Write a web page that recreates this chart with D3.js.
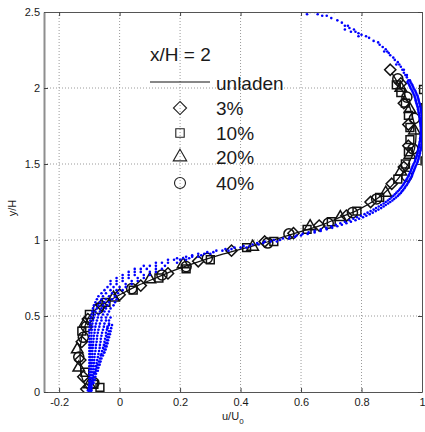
<!DOCTYPE html>
<html><head><meta charset="utf-8">
<script src="https://cdn.jsdelivr.net/npm/d3@7"></script>
<style>
html,body{margin:0;padding:0;background:#fff;}
text{font-family:"Liberation Sans",Arial,Helvetica,sans-serif;fill:#1a1a1a;}
</style></head><body>
<svg id="c" width="425" height="432"></svg>
<script>
// ---- data ----
const xTicks = [-0.2, 0, 0.2, 0.4, 0.6, 0.8, 1];
const xTickLabels = ["-0.2", "0", "0.2", "0.4", "0.6", "0.8", "1"];
const yTicks = [0, 0.5, 1, 1.5, 2, 2.5];
const yTickLabels = ["0", "0.5", "1", "1.5", "2", "2.5"];
const legendTitle = "x/H = 2";
const legendLabels = ["unladen", "3%", "10%", "20%", "40%"];

// unladen profile [u/U0, y/H]
const unladen = [[-0.10,0.00],[-0.115,0.05],[-0.125,0.10],[-0.13,0.20],[-0.13,0.30],[-0.12,0.40],[-0.10,0.50],
  [-0.075,0.55],[-0.035,0.60],[0.01,0.65],[0.06,0.70],[0.12,0.75],[0.18,0.80],[0.25,0.85],[0.33,0.90],
  [0.42,0.95],[0.51,1.00],[0.59,1.05],[0.67,1.10],[0.73,1.15],[0.79,1.20],[0.87,1.30],[0.92,1.40],
  [0.955,1.50],[0.975,1.60],[0.98,1.70],[0.97,1.80],[0.955,1.90],[0.93,2.00],[0.90,2.10]];

// particle-laden profiles [u/U0, y/H]
const p3 = [[-0.11,0.02],[-0.12,0.10],[-0.13,0.21],[-0.125,0.33],[-0.105,0.48],[-0.06,0.57],[0.0,0.64],
  [0.07,0.70],[0.16,0.78],[0.26,0.86],[0.37,0.93],[0.48,0.99],[0.575,1.045],[0.66,1.095],[0.75,1.16],
  [0.83,1.25],[0.90,1.37],[0.94,1.48],[0.955,1.62],[0.955,1.76],[0.94,1.90],[0.93,2.03],[0.895,2.12]];
const p10 = [[-0.065,0.03],[-0.085,0.05],[-0.115,0.13],[-0.125,0.40],[-0.10,0.51],[-0.045,0.59],[0.045,0.67],
  [0.13,0.75],[0.22,0.81],[0.30,0.87],[0.42,0.95],[0.51,0.99],[0.62,1.07],[0.70,1.12],[0.785,1.19],
  [0.86,1.28],[0.92,1.40],[0.945,1.50],[0.955,1.58],[0.96,1.66],[0.96,1.74],[0.955,1.82],[0.945,1.90],
  [0.93,1.97],[0.915,2.02],[1.01,1.52],[1.01,1.68],[1.01,1.87],[1.005,1.99]];
const p20 = [[-0.10,0.05],[-0.135,0.16],[-0.14,0.28],[-0.115,0.45],[-0.02,0.62],[0.10,0.74],[0.21,0.84],
  [0.44,0.955],[0.63,1.09],[0.73,1.15],[0.88,1.31],[0.93,1.45],[0.96,1.56],[0.975,1.72],[0.96,1.86],[0.93,2.0]];
const p40 = [[-0.085,0.06],[-0.135,0.23],[-0.12,0.36],[-0.11,0.43],[-0.07,0.55],[0.04,0.68],[0.14,0.77],
  [0.22,0.825],[0.29,0.88],[0.49,0.98],[0.56,1.04],[0.69,1.11],[0.77,1.18],[0.85,1.27],[0.95,1.42],
  [0.97,1.60],[0.975,1.80],[0.95,1.94],[0.92,2.06]];

// scattered measurement points, rows of [y/H, u/U0 ...]
const blueRows = [
 [2.50,0.60,0.615,0.63,0.645,0.66,0.675,0.69,0.71],[2.485,0.62,0.655],[2.475,0.67,0.685],[2.46,0.70],[2.445,0.72],
 [2.43,0.735],[2.41,0.745,0.755],[2.395,0.76],[2.385,0.775,0.745],[2.37,0.765,0.78],[2.36,0.79],[2.35,0.80],
 [2.34,0.815,0.79],[2.33,0.825],[2.31,0.84],[2.30,0.855],[2.285,0.86],[2.27,0.87],[2.255,0.88],[2.24,0.875,0.885],
 [2.23,0.89],[2.215,0.895],[2.20,0.905],[2.185,0.91],[2.17,0.92],[2.155,0.915,0.925],[2.14,0.93],[2.12,0.935,0.94],
 [2.10,0.94],[2.085,0.945,0.95],[2.07,0.95],[2.05,0.955,0.96],
 [2.03,0.955,0.965],[2.01,0.96,0.97],[1.99,0.965,0.975],[1.97,0.97,0.98],[1.95,0.975,0.985],[1.93,0.978,0.988],
 [1.91,0.98,0.99],[1.89,0.983,0.993],[1.87,0.986,0.995],[1.85,0.988,0.997],[1.83,0.99,0.998],[1.81,0.992,1.0],
 [1.79,0.993,1.0],[1.77,0.994,1.0],[1.75,0.995,1.0],[1.73,0.996,1.0],[1.71,0.996,1.0],[1.69,0.995,1.0],
 [1.67,0.994,1.0],[1.65,0.993,1.0],[1.63,0.991,0.999],[1.61,0.99,0.997],[1.59,0.987,0.995],[1.57,0.985,0.993],
 [1.55,0.982,0.99],[1.53,0.978,0.988],[1.51,0.975,0.985],[1.49,0.97,0.98],[1.47,0.966,0.976],[1.45,0.962,0.972],
 [1.43,0.957,0.968],[1.41,0.952,0.963],[1.39,0.946,0.958],[1.37,0.94,0.952],[1.35,0.933,0.945],[1.33,0.925,0.938],
 [1.31,0.915,0.93],[1.29,0.905,0.92],[1.27,0.893,0.908],[1.25,0.88,0.895],[1.23,0.865,0.88],[1.21,0.848,0.865],
 [1.19,0.83,0.847],[1.17,0.81,0.827],[1.15,0.785,0.805],[1.13,0.76,0.78],[1.11,0.73,0.75],[1.09,0.70,0.72],
 [1.07,0.665,0.685],[1.05,0.625,0.645],[1.03,0.585,0.60],[1.01,0.54,0.56],[0.99,0.48,0.50,0.52],[0.97,0.44,0.46],
 [0.95,0.38,0.40,0.42],[0.93,0.32,0.34,0.36],[0.91,0.26,0.28,0.30],[0.89,0.22,0.24,0.26],[0.87,0.16,0.18,0.20,0.22],
 [0.85,0.12,0.14,0.16,0.19],[0.83,0.08,0.10,0.12,0.15],[0.81,0.05,0.07,0.09,0.12,0.14],[0.79,0.03,0.05,0.07,0.10,0.12],
 [0.77,0.01,0.03,0.05,0.08,0.10],[0.75,-0.01,0.01,0.03,0.06,0.08],[0.73,-0.03,-0.01,0.01,0.04,0.06],
 [0.71,-0.03,-0.01,0.02,0.04],[0.69,-0.04,-0.02,0.00,0.02],[0.67,-0.05,-0.03,-0.01,0.01],[0.65,-0.06,-0.045,-0.025,-0.005],
 [0.63,-0.07,-0.055,-0.035,-0.015],[0.61,-0.075,-0.06,-0.045,-0.025,-0.01],[0.59,-0.08,-0.065,-0.05,-0.035,-0.015],
 [0.57,-0.085,-0.07,-0.055,-0.04,-0.02],[0.55,-0.088,-0.075,-0.06,-0.045,-0.03],[0.53,-0.09,-0.08,-0.065,-0.05,-0.035],
 [0.51,-0.092,-0.082,-0.07,-0.055,-0.04],[0.49,-0.095,-0.085,-0.072,-0.06,-0.045,-0.03],
 [0.47,-0.097,-0.088,-0.075,-0.06,-0.045,-0.035],[0.45,-0.098,-0.09,-0.078,-0.065,-0.05,-0.035],
 [0.43,-0.099,-0.09,-0.08,-0.067,-0.052,-0.04],[0.41,-0.1,-0.092,-0.082,-0.07,-0.055,-0.042],
 [0.39,-0.1,-0.093,-0.083,-0.072,-0.058,-0.045],[0.37,-0.1,-0.093,-0.085,-0.074,-0.06,-0.045],
 [0.35,-0.1,-0.094,-0.086,-0.075,-0.062,-0.048],[0.33,-0.1,-0.094,-0.087,-0.076,-0.063,-0.05],
 [0.31,-0.1,-0.095,-0.088,-0.078,-0.065,-0.052],[0.29,-0.1,-0.095,-0.089,-0.079,-0.066,-0.055],
 [0.27,-0.1,-0.095,-0.09,-0.08,-0.068,-0.058],[0.25,-0.1,-0.096,-0.09,-0.082,-0.07,-0.06],
 [0.23,-0.1,-0.096,-0.09,-0.083,-0.072],[0.21,-0.1,-0.096,-0.091,-0.084,-0.074],[0.19,-0.1,-0.096,-0.092,-0.085,-0.076],
 [0.17,-0.1,-0.097,-0.092,-0.086,-0.078],[0.15,-0.1,-0.097,-0.093,-0.087,-0.08],[0.13,-0.1,-0.097,-0.093,-0.088,-0.082],
 [0.11,-0.1,-0.097,-0.094,-0.089],[0.09,-0.1,-0.098,-0.094,-0.09],[0.07,-0.1,-0.098,-0.095,-0.09],
 [0.05,-0.1,-0.098,-0.095,-0.092],[0.03,-0.102,-0.099,-0.096,-0.092],[0.01,-0.105,-0.1,-0.097,-0.093],[0.0,-0.1,-0.095]
];
// additional scattered points between the rows above
const blueRowsExtra = [
 [2.04,0.952,0.962],[2.02,0.958,0.968],[2.00,0.962,0.972],[1.98,0.968,0.978],[1.96,0.972,0.982],[1.94,0.976,0.986],
 [1.92,0.979,0.989],[1.90,0.982,0.992],[1.88,0.985,0.994],[1.86,0.987,0.996],[1.84,0.989,0.998],[1.82,0.991,0.999],
 [1.80,0.993,0.999],[1.78,0.994,1.0],[1.76,0.995,1.0],[1.74,0.996,1.0],[1.72,0.996,1.0],[1.70,0.996,1.0],
 [1.68,0.995,1.0],[1.66,0.994,1.0],[1.64,0.992,1.0],[1.62,0.99,0.998],[1.60,0.988,0.996],[1.58,0.986,0.994],
 [1.56,0.983,0.992],[1.54,0.98,0.989],[1.52,0.977,0.986],[1.50,0.972,0.983],[1.48,0.968,0.978],[1.46,0.964,0.974],
 [1.44,0.96,0.97],[1.42,0.955,0.966],[1.40,0.949,0.96],[1.38,0.943,0.955],[1.36,0.937,0.949],[1.34,0.929,0.942],
 [1.32,0.92,0.934],[1.30,0.91,0.925],[1.28,0.899,0.914],[1.26,0.887,0.902],[1.24,0.873,0.888],[1.22,0.857,0.873],
 [1.20,0.84,0.856],[1.18,0.82,0.837],[1.16,0.798,0.816],[1.14,0.773,0.792],[1.12,0.745,0.765],[1.10,0.715,0.735],
 [1.08,0.683,0.703],[1.06,0.645,0.665],[1.04,0.605,0.622],[1.02,0.562,0.58],[1.00,0.51,0.53],[0.98,0.455,0.475],
 [0.96,0.41,0.43],[0.94,0.35,0.37],[0.92,0.29,0.31],[0.90,0.24,0.27],[0.88,0.19,0.21,0.23],
 [0.44,-0.035,-0.025],[0.42,-0.04,-0.028],[0.40,-0.035,-0.03],[0.38,-0.038,-0.032],[0.36,-0.04,-0.035],
 [0.34,-0.042,-0.038],[0.32,-0.045,-0.04],[0.30,-0.048,-0.043],[0.28,-0.05,-0.046],[0.26,-0.052,-0.05],
 [0.24,-0.062,-0.055],[0.22,-0.065,-0.06],[0.20,-0.068,-0.063],[0.18,-0.072,-0.066],[0.16,-0.075,-0.07],
 [0.14,-0.078,-0.072],[0.12,-0.084,-0.078],[0.10,-0.086,-0.08],[0.08,-0.088,-0.082],[0.06,-0.09,-0.086],
 [0.04,-0.1,-0.094],[0.02,-0.1,-0.096]
];

// ---- drawing ----
const svg = d3.select("#c");
const L = 44, R = 422, T = 12, B = 392;
const x = d3.scaleLinear().domain([-0.25, 1]).range([L, R]);
const y = d3.scaleLinear().domain([0, 2.5]).range([B, T]);

svg.append("defs").append("clipPath").attr("id","clip")
  .append("rect").attr("x",L).attr("y",T).attr("width",R-L).attr("height",B-T);

// grid
const grid = svg.append("g");
grid.selectAll(".gx").data(xTicks.filter(v => x(v) > L + 1 && x(v) < R - 1)).join("line")
  .attr("x1", d => x(d)).attr("x2", d => x(d)).attr("y1", T).attr("y2", B)
  .attr("stroke", "#9a9a9a").attr("stroke-width", 1).attr("stroke-dasharray", "1,2");
grid.selectAll(".gy").data(yTicks.filter(v => y(v) > T + 1 && y(v) < B - 1)).join("line")
  .attr("y1", d => y(d)).attr("y2", d => y(d)).attr("x1", L).attr("x2", R)
  .attr("stroke", "#9a9a9a").attr("stroke-width", 1).attr("stroke-dasharray", "1,2");

const plot = svg.append("g").attr("clip-path", "url(#clip)");

// unladen line
plot.append("path").datum(unladen)
  .attr("d", d3.line().x(d => x(d[0])).y(d => y(d[1])).curve(d3.curveCatmullRom))
  .attr("fill", "none").attr("stroke", "#111").attr("stroke-width", 1.3);

const sym = {
  diamond: d3.symbol().type(d3.symbolDiamond2).size(80),
  square: d3.symbol().type(d3.symbolSquare2).size(78),
  triangle: d3.symbol().type(d3.symbolTriangle2).size(95),
  circle: d3.symbol().type(d3.symbolCircle).size(80)
};
const series = [
  {data: p3, s: "diamond"}, {data: p10, s: "square"},
  {data: p20, s: "triangle"}, {data: p40, s: "circle"}
];
series.forEach(ser => {
  plot.append("g").selectAll("path").data(ser.data).join("path")
    .attr("d", sym[ser.s])
    .attr("transform", d => `translate(${x(d[0])},${y(d[1])})`)
    .attr("fill", "none").attr("stroke", "#111").attr("stroke-width", 1.5);
});

// blue points
const bluePts = blueRows.concat(blueRowsExtra).flatMap(r => r.slice(1).map(u => [u, r[0]]));
plot.append("g").selectAll("circle").data(bluePts).join("circle")
  .attr("cx", d => x(d[0])).attr("cy", d => y(d[1])).attr("r", 1.3)
  .attr("fill", "#0000ff");

// axes
const fmtX = (d, i) => xTickLabels[i];
const fmtY = (d, i) => yTickLabels[i];
const ax = svg.append("g").attr("transform", `translate(0,${B})`)
  .call(d3.axisBottom(x).tickValues(xTicks).tickFormat(fmtX).tickSizeInner(-4).tickSizeOuter(0).tickPadding(6));
const ay = svg.append("g").attr("transform", `translate(${L},0)`)
  .call(d3.axisLeft(y).tickValues(yTicks).tickFormat(fmtY).tickSizeInner(-4).tickSizeOuter(0).tickPadding(4));
const at = svg.append("g").attr("transform", `translate(0,${T})`)
  .call(d3.axisTop(x).tickValues(xTicks).tickFormat("").tickSizeInner(-4).tickSizeOuter(0));
const ar = svg.append("g").attr("transform", `translate(${R},0)`)
  .call(d3.axisRight(y).tickValues(yTicks).tickFormat("").tickSizeInner(-4).tickSizeOuter(0));
[ax, ay, at, ar].forEach(g => {
  g.selectAll(".domain").attr("stroke", "#555");
  g.selectAll(".tick line").attr("stroke", "#444");
  g.selectAll("text").attr("font-size", 11).attr("fill", "#1a1a1a")
    .attr("font-family", "'Liberation Sans',Arial,Helvetica,sans-serif");
});
ay.select(".domain").attr("stroke", "#8e8e8e").attr("stroke-width", 2);

// axis labels
const xl = svg.append("text").attr("x", 222).attr("y", 420).attr("font-size", 11);
xl.append("tspan").text("u/U");
xl.append("tspan").attr("font-size", 8).attr("dy", 4).text("0");
svg.append("text").attr("transform", "translate(16,208) rotate(-90)")
  .attr("text-anchor", "middle").attr("font-size", 11).text("y/H");

// legend
const lg = svg.append("g");
lg.append("text").attr("x", 150).attr("y", 61).attr("font-size", 19).text(legendTitle);
lg.append("line").attr("x1", 150).attr("x2", 210).attr("y1", 82).attr("y2", 82)
  .attr("stroke", "#111").attr("stroke-width", 1.2);
lg.append("text").attr("x", 216).attr("y", 90).attr("font-size", 19).text(legendLabels[0]);
const legSym = [
  {s: d3.symbol().type(d3.symbolDiamond2).size(110), y: 108},
  {s: d3.symbol().type(d3.symbolSquare2).size(90), y: 133},
  {s: d3.symbol().type(d3.symbolTriangle2).size(130), y: 157},
  {s: d3.symbol().type(d3.symbolCircle).size(95), y: 183}
];
legSym.forEach((m, i) => {
  lg.append("path").attr("d", m.s).attr("transform", `translate(180,${m.y})`)
    .attr("fill", "none").attr("stroke", "#222").attr("stroke-width", 1.1);
  lg.append("text").attr("x", 216).attr("y", m.y + 7).attr("font-size", 19).text(legendLabels[i + 1]);
});
</script>
</body></html>
